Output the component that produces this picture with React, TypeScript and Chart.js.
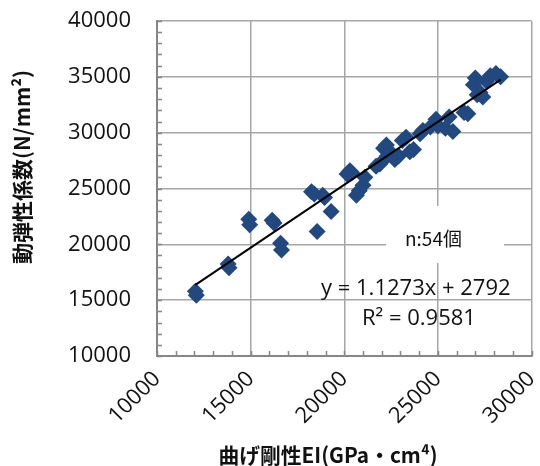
import React, { useEffect, useRef } from "react";
import { Chart, registerables } from "chart.js";

Chart.register(...registerables);

const xValues: number[] = [
  12050, 12100, 13800, 13850, 14900, 14950, 16150, 16250, 16600, 16650,
  18250, 18400, 18850, 18950, 18550, 19300, 20150, 20300, 20400, 20650,
  20800, 21000, 21100, 21700, 21900, 22100, 22250, 22300, 22500, 22700,
  22900, 23100, 23300, 23500, 23700, 24050, 24200, 24600, 24900, 25000,
  25400, 25600, 25800, 26400, 26600, 26900, 27000, 27100, 27250, 27400,
  27600, 27800, 28100, 28350,
];
const yValues: number[] = [
  15800, 15450, 18250, 17900, 22250, 21750, 22150, 21900, 20100, 19500,
  24700, 24500, 24400, 24200, 21150, 22950, 26300, 26600, 26400, 24400,
  24800, 25300, 26000, 27000, 27200, 28600, 28900, 27900, 28200, 27600,
  27900, 29300, 29600, 28300, 28500, 29900, 30200, 30500, 31200, 30600,
  30400, 31400, 30100, 31800, 31700, 34300, 34900, 33400, 33600, 33200,
  34600, 35100, 35300, 35000,
];
const xTicks: number[] = [10000, 15000, 20000, 25000, 30000];
const yTicks: number[] = [10000, 15000, 20000, 25000, 30000, 35000, 40000];
const slope = 1.1273;
const intercept = 2792;
const xTitle = "曲げ剛性EI(GPa・cm⁴)";
const yTitle = "動弾性係数(N/mm²)";
const countLabel = "n:54個";
const eqLabel = "y = 1.1273x + 2792";
const r2Label = "R² = 0.9581";

const TICK_FONT = "'Open Sans', 'Liberation Sans', sans-serif";
const TITLE_FONT = "'Noto Sans CJK JP', 'Open Sans', sans-serif";

const overlayPlugin = {
  id: "overlay",
  afterDraw(chart: any) {
    const ctx = chart.ctx as CanvasRenderingContext2D;
    const xs = chart.scales.x;
    const ys = chart.scales.y;
    const area = chart.chartArea;
    ctx.save();
    // inward minor/major tick marks
    ctx.strokeStyle = "#868686";
    ctx.lineWidth = 1.5;
    ctx.beginPath();
    for (let v = xs.min; v <= xs.max; v += 1000) {
      const px = Math.round(xs.getPixelForValue(v)) + 0.5;
      ctx.moveTo(px, area.bottom);
      ctx.lineTo(px, area.bottom - 5);
    }
    for (let v = ys.min; v <= ys.max; v += 1000) {
      const py = Math.round(ys.getPixelForValue(v)) + 0.5;
      ctx.moveTo(area.left, py);
      ctx.lineTo(area.left + 5, py);
    }
    ctx.stroke();

    // n label box
    ctx.fillStyle = "#ffffff";
    ctx.fillRect(386, 206, 118, 57);
    ctx.fillStyle = "#111111";
    ctx.textBaseline = "middle";
    ctx.textAlign = "left";
    ctx.font = `19px ${TITLE_FONT}`;
    ctx.fillText(countLabel, 405, 239);
    ctx.font = `22px ${TICK_FONT}`;
    ctx.fillText(eqLabel, 321, 289, 203);
    ctx.fillText(r2Label, 362, 319, 121);

    // axis titles
    ctx.font = `bold 21px ${TITLE_FONT}`;
    ctx.textAlign = "center";
    ctx.fillText(xTitle, 328, 455, 219);
    ctx.translate(22, 167);
    ctx.rotate(-Math.PI / 2);
    ctx.fillText(yTitle, 0, 0, 195);
    ctx.restore();
  },
};

export default function App() {
  const ref = useRef<HTMLCanvasElement | null>(null);
  useEffect(() => {
    if (!ref.current) return;
    const points = xValues.map((x, i) => ({ x, y: yValues[i] }));
    const xMin = Math.min(...xValues);
    const xMax = Math.max(...xValues);
    const trend = [
      { x: xMin, y: slope * xMin + intercept },
      { x: xMax, y: slope * xMax + intercept },
    ];
    const plain = (v: any) => String(v);
    const chart = new Chart(ref.current, {
      type: "scatter",
      data: {
        datasets: [
          {
            data: trend,
            showLine: true,
            borderColor: "#000000",
            borderWidth: 2,
            pointRadius: 0,
          },
          {
            data: points,
            pointStyle: "rectRot",
            pointRadius: 8.5,
            backgroundColor: "#22497f",
            borderColor: "#22497f",
            borderWidth: 0,
          },
        ],
      },
      options: {
        responsive: false,
        animation: false,
        events: [],
        layout: { padding: { left: 0, right: 6, top: 21, bottom: 0 } },
        plugins: { legend: { display: false }, tooltip: { enabled: false } },
        scales: {
          x: {
            type: "linear",
            min: 10000,
            max: 30000,
            afterBuildTicks: (s: any) => {
              s.ticks = xTicks.map((v) => ({ value: v }));
            },
            afterFit: (s: any) => {
              s.height = 110;
              s.paddingLeft = 0;
              s.paddingRight = 0;
            },
            ticks: {
              minRotation: 45,
              maxRotation: 45,
              padding: 10,
              color: "#111111",
              callback: plain,
              font: { family: TICK_FONT, size: 22 },
            },
            grid: { color: "#a6a6a6", lineWidth: 1.5, drawTicks: false },
            border: { display: true, color: "#868686", width: 2 },
          },
          y: {
            type: "linear",
            min: 10000,
            max: 40000,
            afterBuildTicks: (s: any) => {
              s.ticks = yTicks.map((v) => ({ value: v }));
            },
            afterFit: (s: any) => {
              s.width = 157;
              s.paddingTop = 0;
              s.paddingBottom = 0;
            },
            ticks: {
              padding: 26,
              color: "#111111",
              callback: plain,
              font: { family: TICK_FONT, size: 22 },
            },
            grid: { color: "#a6a6a6", lineWidth: 1.5, drawTicks: false },
            border: { display: true, color: "#868686", width: 2 },
          },
        },
      },
      plugins: [overlayPlugin],
    } as any);
    return () => chart.destroy();
  }, []);
  return (
    <div style={{ position: "fixed", left: 0, top: 0, width: 540, height: 466, background: "#fff" }}>
      <canvas ref={ref} width={540} height={466} style={{ display: "block" }} />
    </div>
  );
}
